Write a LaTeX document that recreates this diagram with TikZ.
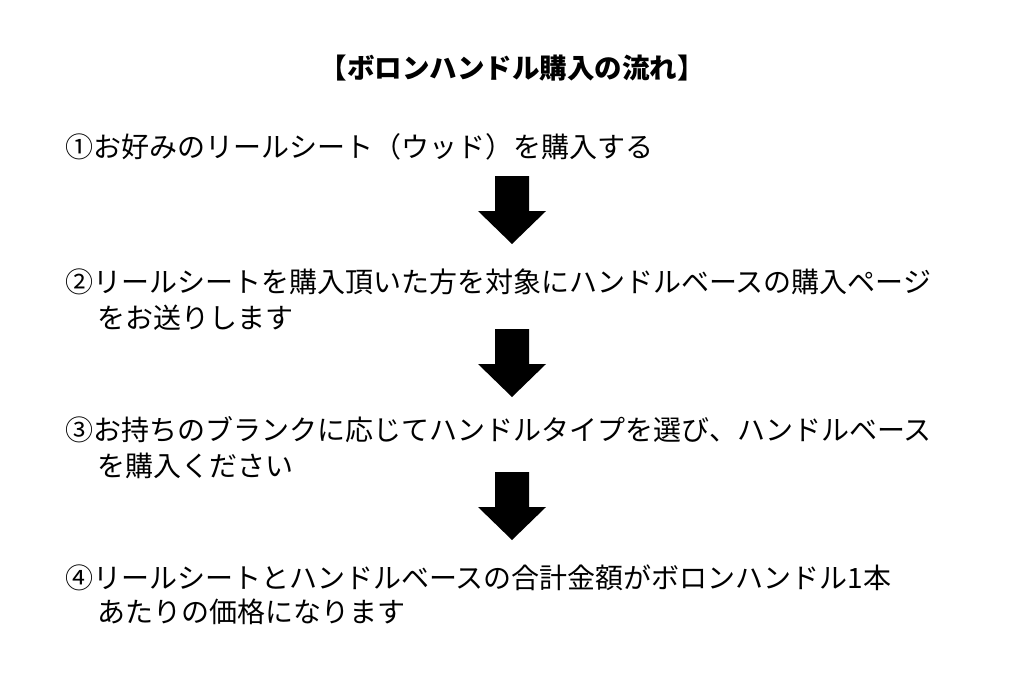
\documentclass[tikz,border=0pt]{standalone}
\usepackage{fontspec}
\setmainfont{Noto Sans CJK JP}
\begin{document}
\begin{tikzpicture}[x=1pt,y=-1pt,
  steptext/.style={anchor=base west,inner sep=0pt,font=\fontsize{28}{36}\selectfont},
  titletext/.style={anchor=base,inner sep=0pt,font=\fontsize{27.5}{33}\selectfont\bfseries},
  blockarrow/.style={fill=black}]
\useasboundingbox[fill=white] (0,0) rectangle (1024,683);
\node[titletext] (title) at (512,78.5) {【ボロンハンドル購入の流れ】};
\node[steptext] (s1) at (65,157.5) {①お好みのリールシート（ウッド）を購入する};
\node[steptext] (s2a) at (65,292.5) {②リールシートを購入頂いた方を対象にハンドルベースの購入ページ};
\node[steptext] (s2b) at (97,328.5) {をお送りします};
\node[steptext] (s3a) at (65,440.5) {③お持ちのブランクに応じてハンドルタイプを選び、ハンドルベース};
\node[steptext] (s3b) at (97,476.5) {を購入ください};
\node[steptext] (s4a) at (65,588.5) {④リールシートとハンドルベースの合計金額がボロンハンドル1本};
\node[steptext] (s4b) at (97,622.5) {あたりの価格になります};
\coordinate (a1) at (512,176);
\coordinate (a2) at (512,329);
\coordinate (a3) at (512,472);
\foreach \a in {a1,a2,a3}{
  \fill[blockarrow] (\a) +(-17,0) -- +(17,0) -- +(17,35) -- +(34,35) -- +(0,68) -- +(-34,35) -- +(-17,35) -- cycle;
}
\end{tikzpicture}
\end{document}
